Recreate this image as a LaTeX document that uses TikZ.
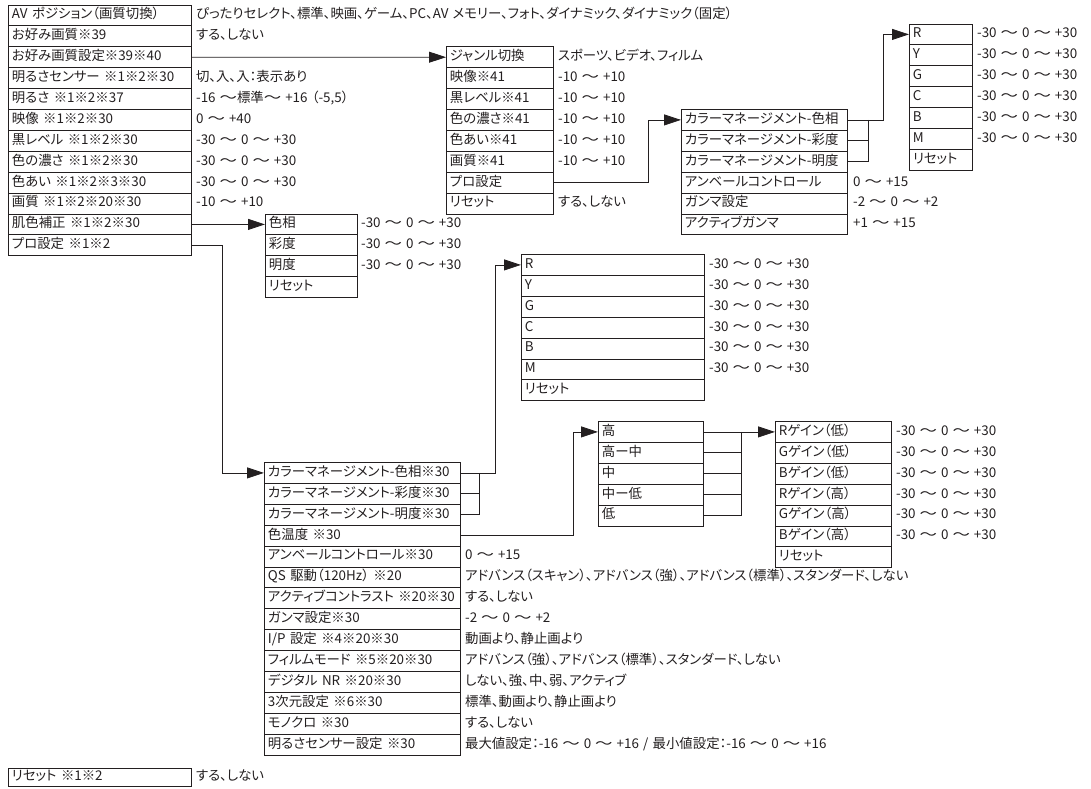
\documentclass[tikz,border=0pt]{standalone}
\usepackage{fontspec}
\setmainfont{Noto Sans CJK JP}[RawFeature=+palt, WordSpace=1.4]
\newfontfamily\fullfont{Noto Sans CJK JP}
\usepackage{graphicx}
\usepackage{tikz}
\usetikzlibrary{arrows.meta, positioning}
\definecolor{inkline}{RGB}{35,31,32}
\newcommand{\menufont}{\fontsize{13.4pt}{15pt}\selectfont}
\newcommand{\wave}{\scalebox{1.3}[1]{\fullfont 〜}}
\newcommand{\nami}{\hspace{0.3em}\wave\hspace{0.3em}}

\begin{document}
\begin{tikzpicture}[x=1pt, y=-1pt,
  item/.style={rectangle, draw=inkline, line width=0.9pt, anchor=north west, minimum height=20.9pt, inner xsep=3.5pt, inner ysep=0pt, text height=10pt, text depth=3.2pt, align=left, text width=#1, font=\menufont, text=inkline},
  val/.style={inner sep=0pt, text height=10pt, text depth=3.2pt, font=\menufont, text=inkline},
  link/.style={draw=inkline, line width=0.8pt},
  feed/.style={link, -{Triangle[length=17pt, width=11pt]}}
]
  \useasboundingbox (0,0) rectangle (1091,788);

  \foreach \lbl [count=\i] in {AV ポジション（画質切換）, お好み画質※39, お好み画質設定※39※40, 明るさセンサー ※1※2※30, 明るさ ※1※2※37, 映像 ※1※2※30, 黒レベル ※1※2※30, 色の濃さ ※1※2※30, 色あい ※1※2※3※30, 画質 ※1※2※20※30, 肌色補正 ※1※2※30, プロ設定 ※1※2}
    \node[item=176pt] (main\i) at (8,{4.5+(\i-1)*20.9}) {\mbox{\lbl}};
  \foreach \i/\v in {1/ぴったりセレクト、標準、映画、ゲーム、PC、AV メモリー、フォト、ダイナミック、ダイナミック（固定）, 2/する、しない, 4/切、入、入：表示あり, 5/{-16\hspace{0.3em}\wave 標準\wave\hspace{0.3em}+16 （-5,5）}, 6/{0\nami +40}, 7/{-30\nami 0\nami +30}, 8/{-30\nami 0\nami +30}, 9/{-30\nami 0\nami +30}, 10/{-10\nami +10}}
    \node[val, right=4pt of main\i] (mainv\i) {\v};

  \foreach \lbl [count=\i] in {ジャンル切換, 映像※41, 黒レベル※41, 色の濃さ※41, 色あい※41, 画質※41, プロ設定, リセット}
    \node[item=100pt] (genre\i) at (446,{46.3+(\i-1)*20.9}) {\mbox{\lbl}};
  \foreach \i/\v in {1/スポーツ、ビデオ、フィルム, 2/{-10\nami +10}, 3/{-10\nami +10}, 4/{-10\nami +10}, 5/{-10\nami +10}, 6/{-10\nami +10}, 8/する、しない}
    \node[val, right=4pt of genre\i] (genrev\i) {\v};

  \foreach \lbl [count=\i] in {カラーマネージメント-色相, カラーマネージメント-彩度, カラーマネージメント-明度, アンベールコントロール, ガンマ設定, アクティブガンマ}
    \node[item=159pt] (cm\i) at (681,{109+(\i-1)*20.9}) {\mbox{\lbl}};
  \foreach \i/\v in {4/{0\nami +15}, 5/{-2\nami 0\nami +2}, 6/{+1\nami +15}}
    \node[val, right=5pt of cm\i] (cmv\i) {\v};

  \foreach \lbl [count=\i] in {R, Y, G, C, B, M, リセット}
    \node[item=56pt] (rgbA\i) at (909,{23.5+(\i-1)*20.9}) {\mbox{\lbl}};
  \foreach \i in {1,...,6}
    \node[val, right=4pt of rgbA\i] (rgbAv\i) {-30\nami 0\nami +30};

  \foreach \lbl [count=\i] in {色相, 彩度, 明度, リセット}
    \node[item=85pt] (skin\i) at (265,{213.5+(\i-1)*20.9}) {\mbox{\lbl}};
  \foreach \i in {1,2,3}
    \node[val, right=3pt of skin\i] (skinv\i) {-30\nami 0\nami +30};

  \foreach \lbl [count=\i] in {R, Y, G, C, B, M, リセット}
    \node[item=176pt] (rgbB\i) at (521,{254+(\i-1)*20.9}) {\mbox{\lbl}};
  \foreach \i in {1,...,6}
    \node[val, right=4pt of rgbB\i] (rgbBv\i) {-30\nami 0\nami +30};

  \foreach \lbl [count=\i] in {カラーマネージメント-色相※30, カラーマネージメント-彩度※30, カラーマネージメント-明度※30, 色温度 ※30, アンベールコントロール※30, QS 駆動（120Hz） ※20, アクティブコントラスト ※20※30, ガンマ設定※30, {I/P 設定 ※4※20※30}, フィルムモード ※5※20※30, デジタル NR ※20※30, 3次元設定 ※6※30, モノクロ ※30, 明るさセンサー設定 ※30}
    \node[item=189pt] (pro\i) at (264,{462+(\i-1)*20.9}) {\mbox{\lbl}};
  \foreach \i/\v in {5/{0\nami +15}, 6/アドバンス（スキャン）、アドバンス（強）、アドバンス（標準）、スタンダード、しない, 7/する、しない, 8/{-2\nami 0\nami +2}, 9/動画より、静止画より, 10/アドバンス（強）、アドバンス（標準）、スタンダード、しない, 11/しない、強、中、弱、アクティブ, 12/標準、動画より、静止画より, 13/する、しない, 14/{最大値設定：-16\nami 0\nami +16 / 最小値設定：-16\nami 0\nami +16}}
    \node[val, right=4pt of pro\i] (prov\i) {\v};

  \foreach \lbl [count=\i] in {高, 高ー中, 中, 中ー低, 低}
    \node[item=98pt] (tone\i) at (598,{421+(\i-1)*20.9}) {\mbox{\lbl}};

  \foreach \lbl [count=\i] in {Rゲイン（低）, Gゲイン（低）, Bゲイン（低）, Rゲイン（高）, Gゲイン（高）, Bゲイン（高）, リセット}
    \node[item=109pt] (gain\i) at (775,{421+(\i-1)*20.9}) {\mbox{\lbl}};
  \foreach \i in {1,...,6}
    \node[val, right=4pt of gain\i] (gainv\i) {-30\nami 0\nami +30};

  \node[item=176pt, minimum height=17.5pt] (reset) at (8,768) {リセット ※1※2};
  \node[val, right=4pt of reset] (resetv) {する、しない};

  \draw[feed] (main3.east) -- (genre1.west);
  \draw[feed] (main11.east) -- (skin1.west);
  \draw[feed] (main12.east) -- ++(30,0) |- (pro1.west);
  \draw[feed] (genre7.east) -- ++(94,0) |- (cm1.west);

  \foreach \i in {1,2,3}
    \draw[link] (cm\i.east) -- ++(20,0);
  \draw[link] ([xshift=20pt]cm1.east) -- ([xshift=20pt]cm3.east);
  \draw[feed] (cm1.east) -- ++(35,0) |- (rgbA1.west);

  \foreach \i in {1,2,3}
    \draw[link] (pro\i.east) -- ++(18,0);
  \draw[link] ([xshift=18pt]pro1.east) -- ([xshift=18pt]pro3.east);
  \draw[feed] (pro1.east) -- ++(34,0) |- (rgbB1.west);
  \draw[feed] (pro4.east) -- ++(112,0) |- (tone1.west);

  \foreach \i in {1,...,5}
    \draw[link] (tone\i.east) -- ++(37,0);
  \draw[link] ([xshift=37pt]tone1.east) -- ([xshift=37pt]tone5.east);
  \draw[feed] (tone1.east) -- (gain1.west);
\end{tikzpicture}
\end{document}
